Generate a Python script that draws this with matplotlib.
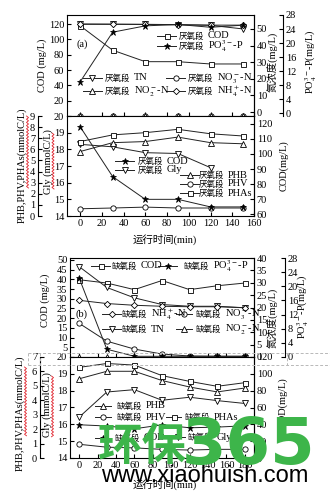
import matplotlib
matplotlib.use("Agg")
import matplotlib.pyplot as plt
from matplotlib.lines import Line2D
from matplotlib.text import Annotation

plt.rcParams["font.family"] = ["Liberation Serif", "Noto Sans CJK SC"]
plt.rcParams["mathtext.fontset"] = "stix"
plt.rcParams["font.size"] = 7.5
plt.rcParams["axes.linewidth"] = 0.8
plt.rcParams["xtick.direction"] = "in"
plt.rcParams["ytick.direction"] = "in"
plt.rcParams["xtick.major.size"] = 3
plt.rcParams["ytick.major.size"] = 3
plt.rcParams["xtick.major.pad"] = 2.5
plt.rcParams["ytick.major.pad"] = 2

# ---------------- (a) anaerobic stage ----------------
t_a = [0, 30, 60, 90, 120, 150]
cod_a = [118, 86, 71, 71, 68, 68]
po4_a = [8.9, 23.1, 24.9, 25.3, 24.5, 25.1]
tn_a = [52.8, 52.8, 52.7, 52.5, 52.2, 50.0]
nh4_a = [53.0, 52.9, 52.8, 52.6, 52.3, 52.3]
no3_a = [-2.2, -2.2, -2.2, -2.2, -2.2, -2.2]
no2_a = [-2.3, -2.3, -2.3, -2.3, -2.3, -2.3]

phb_a = [5.8, 6.6, 6.7, 7.1, 6.6, 6.5]
phv_a = [0.65, 0.72, 0.8, 0.72, 0.72, 0.72]
phas_a = [6.7, 7.3, 7.5, 7.8, 7.4, 7.2]
cod_a2 = [118, 85, 70, 70, 65, 65]
t_gly_a = [0, 30, 60, 90, 120]
gly_a = [18.3, 18.15, 17.8, 17.75, 16.9]

# ---------------- (b) anoxic stage ----------------
t_b = [0, 30, 60, 90, 120, 150, 180]
cod_b = [39.8, 38.1, 34.7, 39.4, 34.7, 36.7, 38.1]
tn_b = [36.5, 28.1, 23.9, 21.2, 20.5, 20.5, 19.9]
nh4_b = [22.9, 21.6, 20.9, 20.5, 20.3, 20.3, 19.9]
po4_b = [22.3, 2.2, 0.2, 0.2, 0.2, 0.2, 0.2]
no3_b = [13.6, 6.4, 3.2, 1.2, 0.4, 0.3, 0.3]
no2_b = [0.2, 0.2, 0.2, 0.2, 0.2, 0.2, 0.2]

phb_b = [5.49, 6.01, 6.01, 5.37, 4.92, 4.58, 4.85]
phas_b = [6.28, 6.55, 6.44, 5.71, 5.31, 4.97, 5.22]
phv_b = [0.95, 0.75, 0.7, 0.6, 0.55, 0.6, 0.6]
gly_b = [16.43, 17.92, 18.06, 17.43, 17.61, 17.41, 17.24]
cod_b2 = [39.5, 38.0, 34.7, 39.4, 35.9, 36.7, 38.3]

W, H = 330, 496
fig = plt.figure(figsize=(W / 100, H / 100), dpi=100)


def box(x0, y0, x1, y1):
    return [x0 / W, 1 - y1 / H, (x1 - x0) / W, (y1 - y0) / H]


def fx(x):
    return x / W


def fy(y):
    return 1 - y / H


STY = {
    "sq": dict(marker="s", ms=3.6, mfc="white", mec="k", mew=0.6),
    "star": dict(marker="*", ms=5, mfc="k", mec="k", mew=0.5),
    "dn": dict(marker="v", ms=4, mfc="white", mec="k", mew=0.6),
    "up": dict(marker="^", ms=4, mfc="white", mec="k", mew=0.6),
    "ci": dict(marker="o", ms=3.8, mfc="white", mec="k", mew=0.6),
    "di": dict(marker="D", ms=3.2, mfc="white", mec="k", mew=0.6),
}
LW = 0.7
LC = "#222222"
CJK = ["Noto Sans CJK SC"]


def plot(ax, x, y, key):
    ax.plot(x, y, color=LC, lw=LW, clip_on=False, **STY[key])


def entry(x0, y, key, prefix, formula, tx, hl=19):
    fig.add_artist(Line2D([fx(x0), fx(x0 + hl)], [fy(y), fy(y)], color=LC, lw=LW,
                          transform=fig.transFigure))
    fig.add_artist(Line2D([fx(x0 + hl / 2)], [fy(y)], transform=fig.transFigure,
                          color=LC, lw=0, **STY[key]))
    t = fig.text(fx(tx), fy(y), prefix, ha="left", va="center", fontsize=6.1,
                 family=CJK)
    ann = Annotation(formula, xy=(1, 0.5), xycoords=t, xytext=(2.5, 0),
                     textcoords="offset points", ha="left", va="center", fontsize=7.5)
    fig.add_artist(ann)


def style_twin(ax, side):
    for s in ["top", "bottom", "left", "right"]:
        ax.spines[s].set_visible(s == side)


def hide_first_label(ax):
    labels = [""] + [f"{v:g}" for v in ax.get_yticks()[1:]]
    ax.set_yticklabels(labels)


# ---------- panel (a), upper ----------
a1 = fig.add_axes(box(67, 15, 254, 116))
a1.set_xlim(-12, 160)
a1.set_ylim(0, 132)
a1.set_yticks(range(0, 121, 20))
hide_first_label(a1)
a1.set_xticks(range(0, 161, 20))
a1.tick_params(axis="x", labelbottom=False)
a1n = a1.twinx()
a1n.set_ylim(-2.4, 58.4)
a1n.set_yticks(range(0, 51, 10))
style_twin(a1n, "right")
a1p = a1.twinx()
a1p.spines["right"].set_position(("axes", (283 - 67) / 187))
style_twin(a1p, "right")
a1p.set_ylim(-0.8, 28)
a1p.set_yticks(range(0, 29, 4))

plot(a1, t_a, cod_a, "sq")
plot(a1n, t_a, tn_a, "dn")
plot(a1n, t_a, nh4_a, "di")
plot(a1n, t_a, no3_a, "ci")
plot(a1n, t_a, no2_a, "up")
plot(a1p, t_a, po4_a, "star")
fig.text(fx(82), fy(44), "(a)", ha="center", va="center")

entry(157, 36, "sq", "厌氧段", "COD", 179)
entry(157, 46, "star", "厌氧段", "PO$_4^{3-}$-P", 179)
entry(83, 78, "dn", "厌氧段", "TN", 105)
entry(83, 91, "up", "厌氧段", "NO$_2^-$-N", 105)
entry(166, 78, "ci", "厌氧段", "NO$_3^-$-N", 188)
entry(166, 91, "di", "厌氧段", "NH$_4^+$-N", 188)

# ---------- panel (a), lower ----------
a2 = fig.add_axes(box(67, 116, 254, 216))
a2.set_xlim(-12, 160)
a2.set_xticks(range(0, 161, 20))
a2.set_ylim(14, 20)
a2.set_yticks(range(14, 21))
a2h = a2.twinx()
a2h.yaxis.set_ticks_position("left")
a2h.spines["left"].set_position(("axes", (38 - 67) / 187))
style_twin(a2h, "left")
a2h.set_ylim(0, 9)
a2h.set_yticks(range(0, 10))
a2c = a2.twinx()
style_twin(a2c, "right")
a2c.set_ylim(59, 125)
a2c.set_yticks(range(60, 121, 10))

plot(a2h, t_a, phb_a, "up")
plot(a2h, t_a, phv_a, "ci")
plot(a2h, t_a, phas_a, "sq")
plot(a2c, t_a, cod_a2, "star")
plot(a2, t_gly_a, gly_a, "dn")

entry(115, 161, "star", "厌氧段", "COD", 138)
entry(115, 170, "dn", "厌氧段", "Gly", 138)
entry(180, 175, "up", "厌氧段", "PHB", 199)
entry(180, 184, "ci", "厌氧段", "PHV", 199)
entry(180, 193, "sq", "厌氧段", "PHAs", 199)

# ---------- panel (b), upper ----------
b1 = fig.add_axes(box(70, 258, 254, 357))
b1.set_xlim(-10, 190)
b1.set_xticks(range(0, 181, 20))
b1.tick_params(axis="x", labelbottom=False)
b1.set_ylim(0, 51)
b1.set_yticks(range(0, 51, 5))
hide_first_label(b1)
b1n = b1.twinx()
style_twin(b1n, "right")
b1n.set_ylim(0, 40)
b1n.set_yticks(range(0, 41, 5))
b1p = b1.twinx()
b1p.spines["right"].set_position(("axes", (285 - 70) / 184))
style_twin(b1p, "right")
b1p.set_ylim(0, 28)
b1p.set_yticks(range(0, 29, 4))

plot(b1, t_b, cod_b, "sq")
plot(b1n, t_b, tn_b, "dn")
plot(b1n, t_b, nh4_b, "di")
plot(b1n, t_b, no3_b, "ci")
plot(b1n, t_b, no2_b, "up")
plot(b1p, t_b, po4_b, "star")
fig.text(fx(82), fy(314), "(b)", ha="center", va="center")

entry(91, 266, "sq", "缺氧段", "COD", 112)
entry(158, 266, "star", "缺氧段", "PO$_4^{3-}$-P", 184)
entry(102, 314, "di", "缺氧段", "NH$_4^+$-N", 122)
entry(176, 314, "ci", "缺氧段", "NO$_3^-$-N", 196, hl=16)
entry(102, 329, "dn", "缺氧段", "TN", 122)
entry(176, 329, "up", "缺氧段", "NO$_2^-$-N", 196, hl=16)

# ---------- panel (b), lower ----------
b2 = fig.add_axes(box(70, 357, 254, 458))
b2.set_xlim(-10, 190)
b2.set_xticks(range(0, 181, 20))
b2.set_ylim(14, 20)
b2.set_yticks(range(14, 21))
b2h = b2.twinx()
b2h.yaxis.set_ticks_position("left")
b2h.spines["left"].set_position(("axes", (40 - 70) / 184))
style_twin(b2h, "left")
b2h.set_ylim(0, 7)
b2h.set_yticks(range(0, 8))
b2c = b2.twinx()
style_twin(b2c, "right")
b2c.set_ylim(0, 120)
b2c.set_yticks(range(0, 121, 20))

plot(b2h, t_b, phb_b, "up")
plot(b2h, t_b, phas_b, "sq")
plot(b2h, t_b, phv_b, "ci")
plot(b2c, t_b, cod_b2, "star")
plot(b2, t_b, gly_b, "dn")

entry(95, 406, "up", "缺氧段", "PHB", 117, hl=16)
entry(95, 417, "ci", "缺氧段", "PHV", 117, hl=16)
entry(166, 417, "sq", "缺氧段", "PHAs", 185, hl=15)
entry(95, 438, "star", "缺氧段", "COD", 115, hl=16)
entry(170, 437, "dn", "缺氧段", "Gly", 188, hl=15)


# ---------- axis titles ----------
def vlabel(x, y, s, **kw):
    fig.text(fx(x), fy(y), s, rotation=90, ha="center", va="center", **kw)


vlabel(42, 65, "COD (mg/L)")
vlabel(273, 62, "氮浓度(mg/L)")
vlabel(311, 62, "PO$_4^{3-}$-P(mg/L)")
vlabel(22, 165, "PHB,PHV,PHAs(mmolC/L)")
vlabel(48, 162, "Gly (mmolC/L)")
vlabel(284, 166, "COD(mg/L)")
fig.text(fx(165), fy(239), "运行时间(min)", ha="center", va="center")

vlabel(45, 300, "COD (mg/L)")
vlabel(273, 318, "氮浓度(mg/L)")
vlabel(303, 307, "PO$_4^{3-}$-P(mg/L)")
vlabel(20, 413, "PHB,PHV,PHAs(mmolC/L)")
vlabel(47, 405, "Gly (mmolC/L)")
vlabel(283, 403, "COD(mg/L)")
fig.text(fx(165), fy(484), "运行时间(min)", ha="center", va="center")


# red proofing squiggles beside the rotated axis titles
def squiggle(x, y0, y1):
    ys, xs = [], []
    y, k = y0, 0
    while y <= y1:
        ys.append(fy(y))
        xs.append(fx(x + (1.0 if k % 2 else -1.0)))
        y += 1.6
        k += 1
    fig.add_artist(Line2D(xs, ys, color="#e0202a", lw=0.6, transform=fig.transFigure))


squiggle(27.5, 116, 188)
squiggle(53, 133, 190)
squiggle(25.5, 367, 437)
squiggle(52.5, 376, 437)

# dashed frame of the embedded object
dash = dict(color="#b8b8b8", lw=0.7, ls=(0, (3, 2)), transform=fig.transFigure)
for (xa, ya, xb, yb) in [(28, 353, 330, 353), (28, 365, 330, 365),
                         (28, 353, 28, 365), (40, 353, 40, 365), (287, 353, 287, 365)]:
    fig.add_artist(Line2D([fx(xa), fx(xb)], [fy(ya), fy(yb)], **dash))

# site mark
green = "#3db54a"
fig.text(fx(142), fy(447), "环保", color=green, fontsize=32, fontweight="bold",
         family=CJK, ha="center", va="center")
fig.text(fx(249), fy(446), "365", color=green, fontsize=46, fontweight="bold",
         family=["DejaVu Sans"], ha="center", va="center")
fig.text(fx(205), fy(476), "www.xiaohuish.com", color="black", fontsize=17,
         family=["Liberation Sans"], ha="center", va="center")

fig.savefig("out.png", dpi=100)
